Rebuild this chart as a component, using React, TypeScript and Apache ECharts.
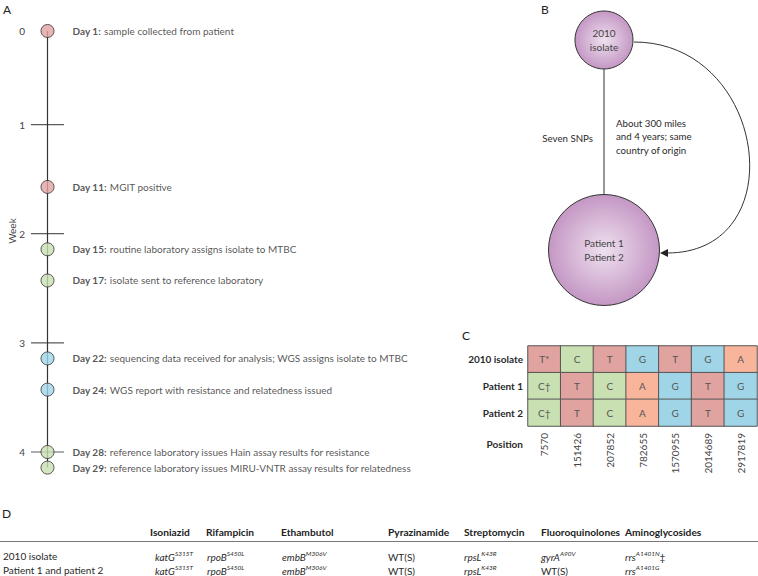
import React, { useEffect, useRef } from "react";
import * as echarts from "echarts";

const FONT = 'Lato, "Noto Sans", sans-serif';

// Panel A
const eventDays = [1, 11, 15, 17, 22, 24, 28, 29];
const eventTitles = ["Day 1:", "Day 11:", "Day 15:", "Day 17:", "Day 22:", "Day 24:", "Day 28:", "Day 29:"];
const eventTexts = [
  "sample collected from patient",
  "MGIT positive",
  "routine laboratory assigns isolate to MTBC",
  "isolate sent to reference laboratory",
  "sequencing data received for analysis; WGS assigns isolate to MTBC",
  "WGS report with resistance and relatedness issued",
  "reference laboratory issues Hain assay results for resistance",
  "reference laboratory issues MIRU-VNTR assay results for relatedness",
];
const eventStage = ["routine", "routine", "lab", "lab", "wgs", "wgs", "lab", "lab"];
const weekLabelDays = [1, 7, 14, 21, 28];
const weekTickDays = [7, 14, 21, 28];

// Panel B
const nodeNames = ["2010\nisolate", "Patient 1\nPatient 2"];
const nodeLevel = [1, 0];
const nodeSizes = [58, 111];

// Panel C
const positions = ["7570", "151426", "207852", "782655", "1570955", "2014689", "2917819"];
const genomes = ["2010 isolate", "Patient 1", "Patient 2"];
const isolate2010Bases = ["T*", "C", "T", "G", "T", "G", "A"];
const patient1Bases = ["C†", "T", "C", "A", "G", "T", "G"];
const patient2Bases = ["C†", "T", "C", "A", "G", "T", "G"];
const bases = ["T", "C", "G", "A"];

// Panel D
const drugs = ["Isoniazid", "Rifampicin", "Ethambutol", "Pyrazinamide", "Streptomycin", "Fluoroquinolones", "Aminoglycosides"];
const tableRows = ["2010 isolate", "Patient 1 and patient 2"];
const isolateGenes = ["katG", "rpoB", "embB", "", "rpsL", "gyrA", "rrs"];
const isolateMuts = ["S315T", "S450L", "M306V", "", "K43R", "A90V", "A1401N"];
const isolateNotes = ["", "", "", "", "", "", "‡"];
const patientGenes = ["katG", "rpoB", "embB", "", "rpsL", "", "rrs"];
const patientMuts = ["S315T", "S450L", "M306V", "", "K43R", "", "A1401G"];
const patientNotes = ["", "", "", "", "", "", ""];

const stageColors: Record<string, string> = { routine: "#e2a3a1", lab: "#c9e0b2", wgs: "#9fd4e7" };
const baseColors = ["#e0a3a0", "#c8e0b2", "#9fd5e6", "#f8b59c"];

const headerX = [150, 206, 281, 388, 464, 541, 625];
const cellX = [155, 207, 282, 388, 464, 541, 625];

export default function App() {
  const ref = useRef<HTMLDivElement>(null);
  useEffect(() => {
    document.body.style.margin = "0";
    const chart = echarts.init(ref.current!, undefined, { renderer: "svg" });
    const ink = "#333";
    const txt = "#2a2a2a";

    const heatData: any[] = [];
    const heatText: string[] = [];
    [isolate2010Bases, patient1Bases, patient2Bases].forEach((row, r) => {
      row.forEach((b, c) => {
        heatData.push([c, r, bases.indexOf(b[0])]);
        heatText.push(b);
      });
    });

    const cellText = (gene: string, mut: string, note: string) =>
      gene ? `{g|${gene}}{s|${mut}}${note ? `{n|${note}}` : ""}` : `{n|WT(S)}`;

    const tableRich = {
      g: { fontStyle: "italic", fontSize: 10, fontFamily: FONT, fill: txt, lineHeight: 12, verticalAlign: "bottom" },
      s: { fontStyle: "italic", fontSize: 6.5, fontFamily: FONT, fill: txt, lineHeight: 12, verticalAlign: "top" },
      n: { fontSize: 10, fontFamily: FONT, fill: txt, lineHeight: 12, verticalAlign: "bottom" },
    };

    const graphic: any[] = [
      { type: "text", x: 3, y: 3, style: { text: "A", fontSize: 12, fontFamily: FONT, fill: "#222" } },
      { type: "text", x: 541, y: 3, style: { text: "B", fontSize: 12, fontFamily: FONT, fill: "#222" } },
      { type: "text", x: 462, y: 329, style: { text: "C", fontSize: 12, fontFamily: FONT, fill: "#222" } },
      { type: "text", x: 2, y: 507, style: { text: "D", fontSize: 12, fontFamily: FONT, fill: "#222" } },
      {
        type: "text", x: 12, y: 231, rotation: Math.PI / 2,
        style: { text: "Week", fontSize: 10, fontFamily: FONT, fill: "#444", align: "center", verticalAlign: "middle" },
      },
      { type: "text", x: 593, y: 138, style: { text: "Seven SNPs", fontSize: 9.7, fontFamily: FONT, fill: txt, align: "right", verticalAlign: "middle" } },
      {
        type: "text", x: 616, y: 136,
        style: { text: "About 300 miles\nand 4 years; same\ncountry of origin", fontSize: 9.7, lineHeight: 13.5, fontFamily: FONT, fill: txt, align: "left", verticalAlign: "middle" },
      },
      {
        type: "bezierCurve",
        shape: { x1: 634, y1: 42, cpx1: 767, cpy1: 42, cpx2: 795, cpy2: 253, x2: 667, y2: 253 },
        style: { stroke: ink, lineWidth: 1, fill: "none" },
      },
      { type: "polygon", shape: { points: [[660, 253], [668, 249], [668, 257]] }, style: { fill: "#222" } },
      { type: "text", x: 523, y: 444, style: { text: "Position", fontSize: 10, fontWeight: "bold", fontFamily: FONT, fill: txt, align: "right", verticalAlign: "middle" } },
      { type: "line", shape: { x1: 0, y1: 541.5, x2: 758, y2: 541.5 }, style: { stroke: "#555", lineWidth: 0.8 } },
    ];
    drugs.forEach((d, i) => {
      graphic.push({ type: "text", x: headerX[i], y: 532, style: { text: d, fontSize: 10.2, fontWeight: "bold", fontFamily: FONT, fill: "#222", verticalAlign: "middle" } });
    });
    const rowsG = [isolateGenes, patientGenes];
    const rowsM = [isolateMuts, patientMuts];
    const rowsN = [isolateNotes, patientNotes];
    const rowY = [555.5, 569.5];
    tableRows.forEach((r, ri) => {
      graphic.push({ type: "text", x: 3, y: rowY[ri], style: { text: r, fontSize: 10, fontFamily: FONT, fill: txt, verticalAlign: "middle" } });
      drugs.forEach((_, i) => {
        graphic.push({
          type: "text", x: cellX[i], y: rowY[ri],
          style: { text: cellText(rowsG[ri][i], rowsM[ri][i], rowsN[ri][i]), rich: tableRich, verticalAlign: "middle", fontFamily: FONT },
        });
      });
    });

    chart.setOption({
      animation: false,
      textStyle: { fontFamily: FONT },
      grid: [
        { left: 31, top: 15.4, width: 33, height: 467.8 },
        { left: 554, top: 40, width: 100, height: 210 },
        { left: 528, top: 346, width: 229, height: 80 },
      ],
      visualMap: {
        type: "piecewise", show: false, seriesIndex: 5, dimension: 2,
        pieces: bases.map((b, i) => ({ value: i, color: baseColors[i] })),
      },
      xAxis: [
        { gridIndex: 0, type: "value", min: -1, max: 1, show: false },
        { gridIndex: 1, type: "value", min: -1, max: 1, show: false },
        {
          gridIndex: 2, type: "category", data: positions, position: "bottom",
          axisLine: { show: false }, axisTick: { show: false },
          axisLabel: { rotate: 90, margin: 7, fontSize: 10, color: "#444", fontFamily: FONT },
        },
      ],
      yAxis: [
        {
          gridIndex: 0, type: "value", inverse: true, min: 0, max: 30,
          axisLine: { show: false }, axisTick: { show: false }, splitLine: { show: false },
          axisLabel: {
            customValues: weekLabelDays, margin: 6, fontSize: 10, color: "#444", fontFamily: FONT,
            formatter: (v: number) => (v === 1 ? "0" : String(v / 7)),
          },
        },
        { gridIndex: 1, type: "value", min: 0, max: 1, show: false },
        {
          gridIndex: 2, type: "category", data: genomes, inverse: true,
          axisLine: { show: false }, axisTick: { show: false },
          axisLabel: { margin: 5, fontSize: 10, fontWeight: "bold", color: txt, fontFamily: FONT },
        },
      ],
      series: [
        {
          type: "line", xAxisIndex: 0, yAxisIndex: 0, symbol: "none", silent: true,
          data: [[0, eventDays[0]], [0, eventDays[eventDays.length - 1]]],
          lineStyle: { color: ink, width: 1.2 }, z: 1,
        },
        {
          type: "scatter", xAxisIndex: 0, yAxisIndex: 0, symbol: "rect", symbolSize: [33, 1.2], silent: true,
          data: weekTickDays.map((d) => [0, d]), itemStyle: { color: ink }, z: 2,
        },
        {
          type: "scatter", xAxisIndex: 0, yAxisIndex: 0, symbolSize: 13, z: 3, silent: true,
          data: eventDays.map((d, i) => ({
            value: [0, d],
            itemStyle: { color: stageColors[eventStage[i]], borderColor: ink, borderWidth: 1 },
            label: {
              show: true, position: "right", distance: 18,
              formatter: `{b|${eventTitles[i]}} {n|${eventTexts[i]}}`,
              rich: {
                b: { fontWeight: "bold", fontSize: 10, color: txt, fontFamily: FONT },
                n: { fontSize: 10, color: txt, fontFamily: FONT },
              },
            },
          })),
        },
        {
          type: "line", xAxisIndex: 1, yAxisIndex: 1, symbol: "none", silent: true,
          data: nodeLevel.map((l) => [0, l]), lineStyle: { color: ink, width: 1 }, z: 1,
        },
        {
          type: "scatter", xAxisIndex: 1, yAxisIndex: 1, z: 3, silent: true,
          data: nodeNames.map((n, i) => ({ value: [0, nodeLevel[i]], name: n, symbolSize: nodeSizes[i] })),
          itemStyle: {
            color: new echarts.graphic.RadialGradient(0.5, 0.5, 0.5, [
              { offset: 0, color: "#efe1ef" },
              { offset: 1, color: "#c497c4" },
            ]),
            borderColor: ink, borderWidth: 1, opacity: 1,
          },
          label: { show: true, position: "inside", formatter: "{b}", fontSize: 10, lineHeight: 13.5, color: "#444", fontFamily: FONT },
        },
        {
          type: "heatmap", xAxisIndex: 2, yAxisIndex: 2, silent: true,
          data: heatData,
          itemStyle: { borderColor: "#555", borderWidth: 1 },
          label: { show: true, formatter: (p: any) => heatText[p.dataIndex], fontSize: 10, color: "#555", fontFamily: FONT },
        },
      ],
      graphic,
    });
    return () => chart.dispose();
  }, []);
  return <div ref={ref} style={{ width: 758, height: 576 }} />;
}
